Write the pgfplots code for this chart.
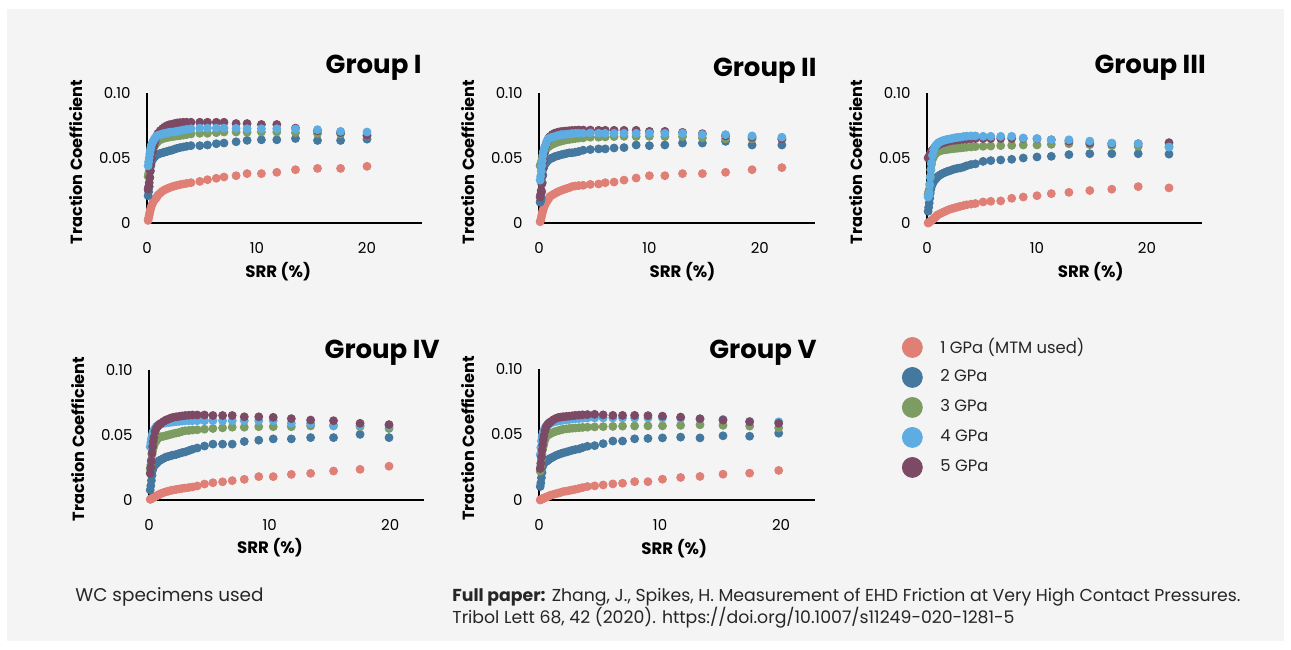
\documentclass[border=0pt]{standalone}
\usepackage{fontspec}
\setmainfont{Poppins}
\usepackage{pgfplots}
\usepackage{pgfplotstable}
\pgfplotsset{compat=1.18}

\definecolor{bgc}{HTML}{F4F4F4}
\definecolor{cA}{HTML}{DF7F76}
\definecolor{cB}{HTML}{44789E}
\definecolor{cC}{HTML}{7D9C62}
\definecolor{cD}{HTML}{5DADE2}
\definecolor{cE}{HTML}{7D4A66}

% x = SRR (%), a..e = 1..5 GPa traction coefficient
\pgfplotstableread{
x a b c d e
0.1 0.002 0.021 0.036 0.044 0.026
0.15 0.004 0.024 0.038 0.047 0.028
0.2 0.006 0.028 0.040 0.050 0.031
0.25 0.008 0.035 0.044 0.053 0.035
0.3 0.010 0.040 0.048 0.056 0.040
0.35 0.0115 0.044 0.051 0.058 0.045
0.4 0.013 0.047 0.053 0.060 0.050
0.5 0.015 0.049 0.056 0.062 0.055
0.6 0.0168 0.050 0.058 0.0635 0.059
0.7 0.018 0.051 0.0595 0.065 0.062
0.8 0.019 0.052 0.061 0.066 0.065
0.9 0.020 0.0525 0.062 0.067 0.067
1.0 0.0215 0.053 0.063 0.0675 0.069
1.2 0.023 0.0535 0.064 0.068 0.071
1.4 0.0245 0.054 0.0648 0.0685 0.0725
1.6 0.0255 0.0545 0.0653 0.069 0.0738
1.8 0.0263 0.055 0.0658 0.0693 0.0748
2.0 0.027 0.0555 0.066 0.0697 0.0755
2.25 0.0278 0.056 0.0664 0.070 0.076
2.5 0.0285 0.0568 0.0667 0.0702 0.0765
2.75 0.029 0.0575 0.067 0.0705 0.077
3.0 0.0295 0.058 0.0672 0.071 0.0772
3.3 0.030 0.0585 0.0676 0.0715 0.0775
3.6 0.0305 0.059 0.068 0.072 0.0775
4.0 0.031 0.0595 0.0685 0.0725 0.0775
4.8 0.032 0.0595 0.069 0.073 0.0775
5.5 0.0333 0.060 0.069 0.073 0.0775
6.3 0.0344 0.061 0.0695 0.073 0.0775
7.0 0.0354 0.0615 0.070 0.073 0.0775
8.1 0.0364 0.0625 0.070 0.0728 0.0765
9.1 0.038 0.0636 0.0698 0.0725 0.0765
10.4 0.038 0.064 0.070 0.0725 0.0758
11.8 0.039 0.064 0.070 0.0725 0.0758
13.5 0.041 0.065 0.0695 0.0723 0.073
15.5 0.042 0.0635 0.0688 0.0718 0.071
17.6 0.042 0.0635 0.0685 0.0705 0.0695
20.0 0.0436 0.0645 0.067 0.070 0.0675
}\groupI

\pgfplotstableread{
x a b c d e
0.1 0.001 0.016 0.044 0.033 0.020
0.15 0.002 0.017 0.045 0.036 0.022
0.2 0.004 0.019 0.046 0.040 0.025
0.25 0.006 0.024 0.048 0.044 0.030
0.3 0.008 0.031 0.050 0.048 0.036
0.35 0.0095 0.037 0.052 0.052 0.042
0.4 0.011 0.042 0.053 0.055 0.048
0.5 0.013 0.0445 0.055 0.058 0.054
0.6 0.015 0.046 0.0565 0.060 0.059
0.7 0.0165 0.047 0.0575 0.0625 0.062
0.8 0.0178 0.048 0.0585 0.064 0.064
0.9 0.019 0.049 0.059 0.065 0.0655
1.0 0.0205 0.0495 0.0595 0.0655 0.0665
1.2 0.0215 0.050 0.0605 0.066 0.068
1.4 0.0225 0.051 0.0612 0.0665 0.069
1.6 0.0235 0.0515 0.062 0.067 0.0695
1.8 0.0243 0.052 0.0625 0.0675 0.070
2.0 0.025 0.0525 0.063 0.068 0.0703
2.25 0.0258 0.053 0.0635 0.068 0.0706
2.5 0.0265 0.0535 0.064 0.0683 0.0708
2.75 0.0272 0.054 0.0643 0.0685 0.071
3.0 0.028 0.054 0.0646 0.0688 0.0712
3.3 0.0285 0.0545 0.065 0.069 0.0713
3.6 0.0288 0.055 0.0653 0.069 0.0715
4.0 0.029 0.056 0.0655 0.069 0.0715
4.65 0.0297 0.0565 0.066 0.0693 0.0715
5.4 0.030 0.057 0.066 0.069 0.0713
6.0 0.031 0.057 0.0662 0.069 0.0713
6.8 0.0315 0.0577 0.0665 0.069 0.0713
7.7 0.033 0.058 0.0667 0.069 0.0713
8.8 0.0346 0.060 0.0665 0.069 0.0713
10.0 0.0364 0.0595 0.0667 0.069 0.0705
11.4 0.0364 0.060 0.0665 0.069 0.0705
13.0 0.038 0.0615 0.0665 0.069 0.0697
14.8 0.038 0.0615 0.0655 0.068 0.0687
16.9 0.039 0.0628 0.0648 0.068 0.067
19.3 0.041 0.060 0.0648 0.067 0.066
22.0 0.0426 0.060 0.0645 0.066 0.0646
}\groupII

\pgfplotstableread{
x a b c d e
0.1 0.000 0.009 0.022 0.020 0.050
0.15 0.0003 0.012 0.024 0.021 0.0505
0.2 0.0006 0.0154 0.0256 0.023 0.051
0.25 0.001 0.019 0.030 0.029 0.052
0.3 0.0013 0.023 0.036 0.035 0.053
0.35 0.0016 0.026 0.041 0.041 0.054
0.4 0.002 0.028 0.045 0.046 0.055
0.5 0.0026 0.030 0.049 0.052 0.056
0.6 0.0033 0.032 0.051 0.056 0.057
0.7 0.004 0.033 0.0525 0.058 0.058
0.8 0.0048 0.034 0.0535 0.0595 0.059
0.9 0.0056 0.035 0.0545 0.0605 0.0595
1.0 0.0064 0.036 0.055 0.0615 0.060
1.2 0.0072 0.037 0.0555 0.0625 0.061
1.4 0.008 0.038 0.056 0.0632 0.0615
1.6 0.0088 0.0388 0.0563 0.0638 0.062
1.8 0.0096 0.0395 0.0565 0.0642 0.0625
2.0 0.0103 0.040 0.0568 0.0646 0.063
2.25 0.011 0.0408 0.057 0.065 0.0633
2.5 0.0116 0.0415 0.0573 0.0655 0.0636
2.75 0.0122 0.042 0.0575 0.0658 0.0638
3.0 0.0128 0.0423 0.0577 0.066 0.064
3.3 0.0134 0.043 0.058 0.0665 0.0643
3.6 0.014 0.044 0.0583 0.0668 0.0645
4.0 0.0145 0.045 0.0585 0.067 0.0648
4.4 0.015 0.0455 0.0588 0.067 0.065
5.1 0.0162 0.0474 0.059 0.0667 0.065
5.8 0.0167 0.048 0.0592 0.0667 0.065
6.7 0.017 0.0485 0.0595 0.0667 0.065
7.7 0.019 0.049 0.0597 0.0667 0.065
8.75 0.020 0.050 0.060 0.0654 0.065
10.0 0.021 0.0508 0.060 0.065 0.0648
11.3 0.0226 0.0513 0.0605 0.064 0.064
12.9 0.0236 0.0526 0.061 0.064 0.063
14.8 0.025 0.0533 0.0603 0.063 0.0615
16.8 0.026 0.0533 0.0595 0.0615 0.061
19.2 0.028 0.0533 0.059 0.061 0.061
22.0 0.027 0.053 0.0585 0.0585 0.0618
}\groupIII

\pgfplotstableread{
x a b c d e
0.1 0.0005 0.0077 0.024 0.041 0.0205
0.15 0.0008 0.011 0.027 0.044 0.025
0.2 0.001 0.015 0.031 0.047 0.030
0.25 0.0013 0.019 0.035 0.049 0.036
0.3 0.0016 0.023 0.038 0.051 0.041
0.35 0.0019 0.025 0.040 0.0525 0.045
0.4 0.0022 0.026 0.042 0.0535 0.048
0.5 0.0026 0.027 0.044 0.055 0.0526
0.6 0.003 0.028 0.0455 0.0564 0.055
0.7 0.0035 0.029 0.047 0.057 0.0565
0.8 0.004 0.030 0.048 0.0577 0.0575
0.9 0.0045 0.0305 0.0485 0.058 0.0585
1.0 0.005 0.031 0.0487 0.0585 0.059
1.2 0.0057 0.032 0.049 0.059 0.0603
1.4 0.0063 0.033 0.0495 0.0593 0.0615
1.6 0.0068 0.0335 0.050 0.0596 0.0622
1.8 0.0073 0.034 0.0505 0.0598 0.063
2.0 0.0077 0.0346 0.051 0.060 0.0636
2.25 0.0081 0.035 0.0515 0.0603 0.064
2.5 0.0085 0.0358 0.052 0.0605 0.0643
2.75 0.0089 0.0365 0.0528 0.0607 0.0647
3.0 0.0092 0.037 0.0533 0.061 0.065
3.3 0.0096 0.038 0.0535 0.061 0.0652
3.6 0.010 0.039 0.0538 0.061 0.0654
4.0 0.0108 0.040 0.054 0.061 0.0654
4.6 0.0123 0.0415 0.0545 0.061 0.0654
5.3 0.0133 0.043 0.055 0.061 0.065
6.1 0.014 0.043 0.0555 0.061 0.065
6.9 0.0149 0.043 0.056 0.061 0.065
7.9 0.0159 0.045 0.056 0.061 0.064
9.1 0.018 0.046 0.0564 0.061 0.064
10.3 0.018 0.047 0.0564 0.061 0.0636
11.8 0.0197 0.047 0.0564 0.059 0.0626
13.4 0.0205 0.048 0.057 0.059 0.0615
15.3 0.0223 0.048 0.057 0.0574 0.061
17.5 0.0236 0.0505 0.0564 0.0574 0.059
19.9 0.026 0.048 0.055 0.057 0.058
}\groupIV

\pgfplotstableread{
x a b c d e
0.1 0.000 0.0103 0.022 0.0346 0.024
0.15 0.0003 0.013 0.026 0.040 0.028
0.2 0.0005 0.017 0.031 0.045 0.033
0.25 0.0008 0.021 0.035 0.048 0.038
0.3 0.001 0.0256 0.0385 0.050 0.042
0.35 0.0012 0.027 0.041 0.052 0.046
0.4 0.0014 0.028 0.043 0.053 0.049
0.5 0.0018 0.029 0.046 0.055 0.053
0.6 0.0022 0.0295 0.0487 0.0564 0.056
0.7 0.0026 0.030 0.0495 0.057 0.0575
0.8 0.003 0.031 0.050 0.058 0.0585
0.9 0.0034 0.0315 0.0505 0.0585 0.0593
1.0 0.0038 0.032 0.051 0.059 0.060
1.2 0.0043 0.033 0.0518 0.0595 0.0613
1.4 0.0048 0.034 0.0525 0.060 0.0623
1.6 0.0053 0.0347 0.053 0.0603 0.063
1.8 0.0058 0.0354 0.0535 0.0606 0.0633
2.0 0.0064 0.036 0.054 0.061 0.0636
2.25 0.0068 0.0366 0.0543 0.0612 0.0638
2.5 0.0072 0.0373 0.0546 0.0615 0.064
2.75 0.0077 0.038 0.0548 0.0618 0.0643
3.0 0.0082 0.0385 0.055 0.062 0.0646
3.3 0.0088 0.039 0.0552 0.0622 0.0648
3.6 0.0095 0.040 0.0554 0.0624 0.065
4.0 0.0103 0.041 0.0556 0.0626 0.0652
4.6 0.0108 0.0415 0.0558 0.0626 0.0654
5.3 0.0115 0.043 0.056 0.0626 0.065
6.1 0.0123 0.045 0.0562 0.0626 0.0646
6.9 0.0128 0.045 0.0564 0.0626 0.0646
7.9 0.014 0.0467 0.0565 0.0626 0.0646
9.0 0.014 0.047 0.0566 0.0626 0.0644
10.2 0.0159 0.0474 0.0566 0.0626 0.064
11.7 0.0172 0.048 0.057 0.0624 0.0633
13.3 0.018 0.0474 0.0574 0.062 0.062
15.2 0.0197 0.049 0.057 0.0615 0.061
17.4 0.0205 0.0487 0.0564 0.060 0.0597
19.8 0.0226 0.051 0.055 0.0597 0.0585
}\groupV

\pgfplotsset{
  panel/.style={
    scale only axis, width=137.5pt, height=65pt,
    anchor=south west, clip=false,
    xmin=0, xmax=25, ymin=0, ymax=0.1,
    axis lines=left, axis line style={-, line width=1pt, black},
    major tick length=0pt,
    xtick={0,10,20}, ytick={0,0.05,0.1}, yticklabels={0,0.05,0.10},
    /pgf/number format/assume math mode=true,
    tick label style={font=\fontsize{7.5}{9}\selectfont, black},
    yticklabel style={anchor=east, inner sep=0pt, xshift=-8pt},
    xticklabel style={anchor=north, inner sep=0pt, yshift=-9.5pt},
    xlabel={SRR (\%)}, ylabel={Traction Coefficient},
    xlabel style={font=\fontsize{8.3}{10}\selectfont\bfseries},
    ylabel style={font=\fontsize{8.1}{9}\selectfont\bfseries,
      at={(axis description cs:-0.258,0.47)}, anchor=center, rotate=0},
    title style={font=\fontsize{13}{15}\selectfont\bfseries, anchor=base east, inner sep=0pt},
    every axis plot/.append style={only marks, mark=*, mark size=2pt},
  },
}

\begin{document}
\begin{tikzpicture}
\fill[white] (0pt,0pt) rectangle (645.5pt,-324.5pt);
\fill[bgc] (3.5pt,-4.5pt) rectangle (642pt,-320.5pt);

% Group I
\begin{axis}[panel, at={(73.5pt,-111.5pt)},
  title={Group I}, title style={at={(axis description cs:1.0,1.054)}},
  xlabel style={at={(axis description cs:0.477,-0.377)}, anchor=center}]
\addplot[cA] table[x=x,y=a] {\groupI};
\addplot[cB] table[x=x,y=b] {\groupI};
\addplot[cC] table[x=x,y=c] {\groupI};
\addplot[cE] table[x=x,y=e] {\groupI};
\addplot[cD] table[x=x,y=d] {\groupI};
\end{axis}

% Group II
\begin{axis}[panel, at={(269.5pt,-111.5pt)}, width=138pt,
  title={Group II}, title style={at={(axis description cs:1.007,1.038)}},
  xlabel style={at={(axis description cs:0.52,-0.377)}, anchor=center}]
\addplot[cA] table[x=x,y=a] {\groupII};
\addplot[cB] table[x=x,y=b] {\groupII};
\addplot[cC] table[x=x,y=c] {\groupII};
\addplot[cE] table[x=x,y=e] {\groupII};
\addplot[cD] table[x=x,y=d] {\groupII};
\end{axis}

% Group III
\begin{axis}[panel, at={(463.5pt,-111.5pt)},
  title={Group III}, title style={at={(axis description cs:1.015,1.06)}},
  xlabel style={at={(axis description cs:0.595,-0.377)}, anchor=center}]
\addplot[cA] table[x=x,y=a] {\groupIII};
\addplot[cB] table[x=x,y=b] {\groupIII};
\addplot[cC] table[x=x,y=c] {\groupIII};
\addplot[cE] table[x=x,y=e] {\groupIII};
\addplot[cD] table[x=x,y=d] {\groupIII};
\end{axis}

% Group IV
\begin{axis}[panel, at={(74.5pt,-250pt)}, xmax=22.8,
  title={Group IV}, title style={at={(axis description cs:1.058,1.0)}},
  xlabel style={at={(axis description cs:0.44,-0.37)}, anchor=center}]
\addplot[cA] table[x=x,y=a] {\groupIV};
\addplot[cB] table[x=x,y=b] {\groupIV};
\addplot[cC] table[x=x,y=c] {\groupIV};
\addplot[cD] table[x=x,y=d] {\groupIV};
\addplot[cE] table[x=x,y=e] {\groupIV};
\end{axis}

% Group V (carries the legend)
\begin{axis}[panel, at={(269.5pt,-250pt)}, xmax=22.8, width=138pt, height=65.5pt,
  title={Group V}, title style={at={(axis description cs:1.007,0.985)}},
  xlabel style={at={(axis description cs:0.49,-0.37)}, anchor=center},
  legend style={at={(axis description cs:1.315,1.244)}, anchor=north west,
    draw=none, fill=none, inner sep=0pt,
    font=\fontsize{8.2}{9}\selectfont, text=black!85,
    row sep=5pt, nodes={inner sep=0pt},
    /tikz/every odd column/.append style={column sep=9pt}},
  legend cell align=left,
  legend image code/.code={\draw[#1, mark size=5pt] plot coordinates {(0pt,0pt)};}]
\addplot[cA] table[x=x,y=a] {\groupV};
\addplot[cB] table[x=x,y=b] {\groupV};
\addplot[cC] table[x=x,y=c] {\groupV};
\addplot[cD] table[x=x,y=d] {\groupV};
\addplot[cE] table[x=x,y=e] {\groupV};
\legend{1 GPa (MTM used), 2 GPa, 3 GPa, 4 GPa, 5 GPa}
\end{axis}

% footer
\node[anchor=base west, inner sep=0pt, font=\fontsize{9.2}{11}\selectfont, text=black!85]
  at (37.5pt,-300.5pt) {WC specimens used};
\node[anchor=base west, inner sep=0pt, font=\fontsize{8.65}{11}\selectfont, text=black!85]
  at (226pt,-300.5pt) {\textbf{Full paper:} Zhang, J., Spikes, H. Measurement of EHD Friction at Very High Contact Pressures.};
\node[anchor=base west, inner sep=0pt, font=\fontsize{8.65}{11}\selectfont, text=black!85]
  at (226pt,-311.5pt) {Tribol Lett 68, 42 (2020). https://doi.org/10.1007/s11249-020-1281-5};

\pgfresetboundingbox
\useasboundingbox (0pt,0pt) rectangle (645.5pt,-324.5pt);
\end{tikzpicture}
\end{document}
